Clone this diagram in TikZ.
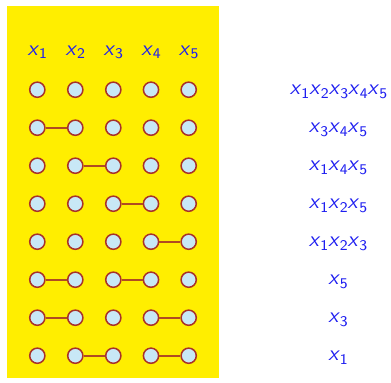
\documentclass[tikz,border=0pt]{standalone}
\definecolor{bgyellow}{HTML}{FFEE00}
\definecolor{dotfill}{HTML}{C8E8F6}
\definecolor{dotline}{HTML}{A8322A}
\definecolor{edgecol}{HTML}{B04A22}
\definecolor{txtblue}{HTML}{1E1EF0}
\newcommand{\vx}[1]{\textit{x}\raisebox{-0.35ex}{\fontsize{7.4}{8}\selectfont #1}}
\tikzset{
  dot/.style={circle, draw=dotline, fill=dotfill, line width=0.75pt, minimum size=7.6pt, inner sep=0pt},
  link/.style={draw=edgecol, line width=0.85pt},
  lbl/.style={text=txtblue, font=\sffamily\fontsize{10.8}{12}\selectfont, inner sep=0pt, anchor=base}
}
\begin{document}
\begin{tikzpicture}[x=0.5pt,y=-0.5pt]
\useasboundingbox (0,0) rectangle (391,382);
\fill[bgyellow] (7,6) rectangle (219,378);
\foreach \c/\xx in {1/37.3,2/75.3,3/113.3,4/151,5/188.7}{
  \node[lbl] (h\c) at (\xx,55) {\vx{\c}};
  \foreach \r in {1,...,8}{
    \node[dot] (n\r\c) at (\xx,{89.7+38*(\r-1)}) {};
  }
}
\draw[link] (n21) -- (n22);
\draw[link] (n32) -- (n33);
\draw[link] (n43) -- (n44);
\draw[link] (n54) -- (n55);
\draw[link] (n61) -- (n62);
\draw[link] (n63) -- (n64);
\draw[link] (n71) -- (n72);
\draw[link] (n74) -- (n75);
\draw[link] (n82) -- (n83);
\draw[link] (n84) -- (n85);
\node[lbl] (m1) at (338.5,94.7) {\vx{1}\vx{2}\vx{3}\vx{4}\vx{5}};
\node[lbl] (m2) at (338,132.7) {\vx{3}\vx{4}\vx{5}};
\node[lbl] (m3) at (338,170.7) {\vx{1}\vx{4}\vx{5}};
\node[lbl] (m4) at (338,208.7) {\vx{1}\vx{2}\vx{5}};
\node[lbl] (m5) at (338,246.7) {\vx{1}\vx{2}\vx{3}};
\node[lbl] (m6) at (338,284.7) {\vx{5}};
\node[lbl] (m7) at (338,322.7) {\vx{3}};
\node[lbl] (m8) at (338,360.7) {\vx{1}};
\end{tikzpicture}
\end{document}
